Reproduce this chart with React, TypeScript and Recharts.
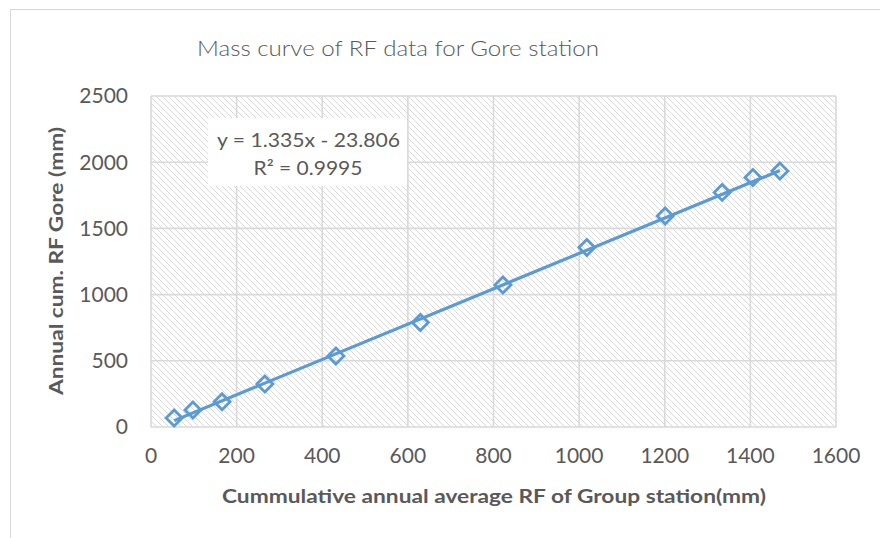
import React from 'react';
import {
  ScatterChart,
  Scatter,
  XAxis,
  YAxis,
  CartesianGrid,
  ReferenceLine,
} from 'recharts';

// cumulative annual average RF of group station (mm)
const groupCum = [54, 98, 166, 266, 432, 629, 822, 1018, 1201, 1334, 1406, 1469];
// annual cumulative RF at Gore (mm)
const goreCum = [68, 128, 190, 325, 536, 790, 1072, 1356, 1594, 1772, 1884, 1934];

const xTicks = [0, 200, 400, 600, 800, 1000, 1200, 1400, 1600];
const yTicks = [0, 500, 1000, 1500, 2000, 2500];

// linear trendline as printed on the chart
const trendSlope = 1.335;
const trendIntercept = -23.806;
const rSquared = 0.9995;

const data = groupCum.map((x, i) => ({ x, y: goreCum[i] }));

const BLUE = '#5b9bd5';
const GREY_TEXT = '#595959';
const FONT = 'Lato, "Open Sans", sans-serif';

const Diamond = (props: any) => {
  const { cx, cy } = props;
  const r = 8;
  return (
    <path
      d={`M${cx},${cy - r}L${cx + r},${cy}L${cx},${cy + r}L${cx - r},${cy}Z`}
      fill="none"
      stroke={BLUE}
      strokeWidth={2.8}
    />
  );
};

export default function App() {
  const x0 = groupCum[0];
  const x1 = groupCum[groupCum.length - 1];
  const tick = { fontSize: 21, fill: GREY_TEXT, fontFamily: FONT };

  return (
    <div style={{ position: 'absolute', left: 0, top: 0, width: 880, height: 538, background: '#fff', overflow: 'hidden' }}>
      <svg width={0} height={0} style={{ position: 'absolute' }}>
        <defs>
          <pattern id="hatch" patternUnits="userSpaceOnUse" width={6} height={6}>
            <rect width={6} height={6} fill="#fff" />
            <path d="M-1,5 l2,2 M0,0 l6,6 M5,-1 l2,2" stroke="#dadada" strokeWidth={1} />
          </pattern>
        </defs>
      </svg>
      <div style={{ position: 'absolute', left: 10, top: 9, width: 900, height: 600, border: '1px solid #d9d9d9' }} />
      <div style={{ position: 'absolute', left: 0, top: 0 }}>
        <ScatterChart width={880} height={538} margin={{ top: 96, right: 44, bottom: 81, left: 0 }}>
          <CartesianGrid fill="url(#hatch)" fillOpacity={1} stroke="#d9d9d9" strokeWidth={1.6} />
          <XAxis
            type="number"
            dataKey="x"
            domain={[0, 1600]}
            ticks={xTicks}
            axisLine={false}
            tickLine={false}
            tickMargin={15}
            height={30}
            tick={tick}
          />
          <YAxis
            type="number"
            dataKey="y"
            domain={[0, 2500]}
            ticks={yTicks}
            axisLine={false}
            tickLine={false}
            tickMargin={17}
            width={151}
            tick={tick}
          />
          <ReferenceLine
            segment={[
              { x: x0, y: trendSlope * x0 + trendIntercept },
              { x: x1, y: trendSlope * x1 + trendIntercept },
            ]}
            stroke={BLUE}
            strokeWidth={3.2}
            ifOverflow="visible"
          />
          <Scatter data={data} shape={<Diamond />} isAnimationActive={false} />
        </ScatterChart>
      </div>
      <svg width={880} height={538} style={{ position: 'absolute', left: 0, top: 0, pointerEvents: 'none' }}>
        <text x={398} y={56} textAnchor="middle" fontSize={22} fill={GREY_TEXT} fontFamily={FONT} fontWeight={300} textLength={402} lengthAdjust="spacingAndGlyphs">
          Mass curve of RF data for Gore station
        </text>
        <rect x={208} y={118} width={199} height={68} fill="#fff" />
        <text x={308.5} y={147} textAnchor="middle" fontSize={19} fill={GREY_TEXT} fontFamily={FONT} textLength={183} lengthAdjust="spacingAndGlyphs">
          {`y = ${trendSlope}x - ${Math.abs(trendIntercept)}`}
        </text>
        <text x={308} y={175} textAnchor="middle" fontSize={19} fill={GREY_TEXT} fontFamily={FONT} textLength={109} lengthAdjust="spacingAndGlyphs">
          {`R² = ${rSquared}`}
        </text>
        <text
          transform="translate(63,261) rotate(-90)"
          textAnchor="middle"
          fontSize={18}
          fontWeight={700}
          fill={GREY_TEXT}
          fontFamily={FONT}
          textLength={268}
          lengthAdjust="spacingAndGlyphs"
        >
          Annual cum. RF Gore (mm)
        </text>
        <text x={494} y={503} textAnchor="middle" fontSize={18} fontWeight={700} fill={GREY_TEXT} fontFamily={FONT} textLength={544} lengthAdjust="spacingAndGlyphs">
          Cummulative annual average RF of Group station(mm)
        </text>
      </svg>
    </div>
  );
}
